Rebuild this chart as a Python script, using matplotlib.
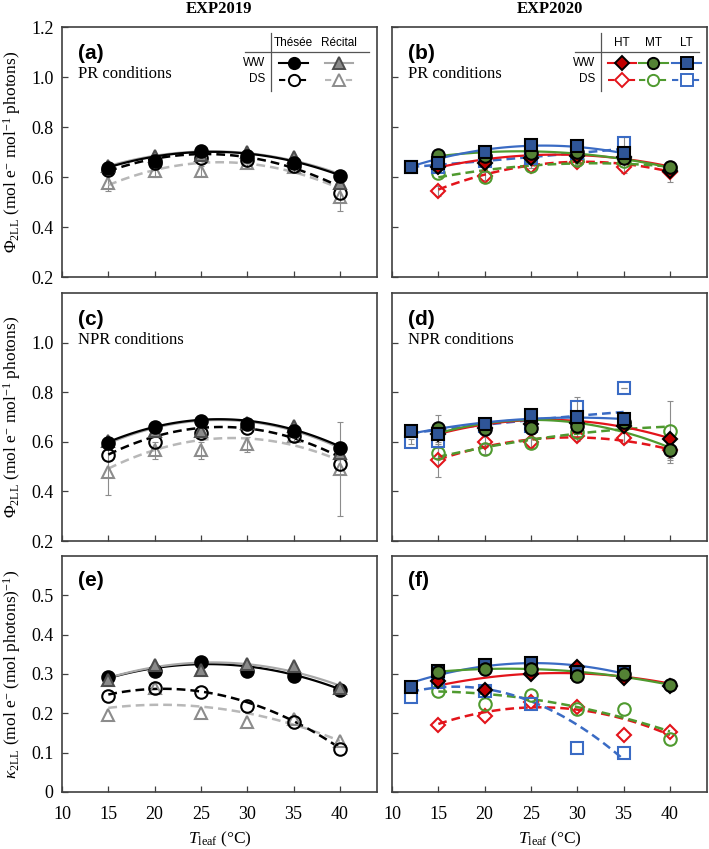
import numpy as np
import matplotlib
matplotlib.use("Agg")
import matplotlib.pyplot as plt

plt.rcParams['font.family'] = 'Liberation Serif'
plt.rcParams['mathtext.fontset'] = 'custom'
plt.rcParams['mathtext.rm'] = 'Liberation Serif'
plt.rcParams['mathtext.it'] = 'Liberation Serif:italic'
plt.rcParams['mathtext.bf'] = 'Liberation Serif:bold'

# temperatures
t19 = [15, 20, 25, 30, 35, 40]
t20 = [15, 20, 25, 30, 35, 40]
t20_lt = [12, 15, 20, 25, 30, 35]

# (a) EXP2019, PR
a_th_ww = [0.635, 0.665, 0.705, 0.685, 0.655, 0.605]
a_th_ww_fit = [0.64, 0.68, 0.698, 0.695, 0.665, 0.605]
a_re_ww = [0.645, 0.685, 0.69, 0.70, 0.68, 0.575]
a_re_ww_fit = [0.645, 0.683, 0.70, 0.697, 0.668, 0.61]
a_th_ds = [0.63, 0.655, 0.675, 0.67, 0.645, 0.535]
a_th_ds_fit = [0.625, 0.67, 0.69, 0.683, 0.635, 0.56]
a_re_ds = [0.575, 0.625, 0.625, 0.655, 0.64, 0.52]
a_re_ds_fit = [0.57, 0.625, 0.653, 0.655, 0.625, 0.55]
a_re_ds_err = [0.03, 0.025, 0.02, 0.02, 0.02, 0.055]

# (c) EXP2019, NPR
c_th_ww = [0.595, 0.66, 0.685, 0.67, 0.645, 0.575]
c_th_ww_fit = [0.60, 0.66, 0.685, 0.685, 0.655, 0.578]
c_re_ww = [0.605, 0.645, 0.645, 0.675, 0.665, 0.555]
c_re_ww_fit = [0.595, 0.655, 0.682, 0.682, 0.65, 0.572]
c_th_ds = [0.545, 0.60, 0.635, 0.655, 0.625, 0.51]
c_th_ds_fit = [0.55, 0.62, 0.652, 0.655, 0.62, 0.535]
c_re_ds = [0.48, 0.565, 0.565, 0.59, 0.625, 0.49]
c_re_ds_fit = [0.49, 0.57, 0.607, 0.612, 0.585, 0.525]
c_re_ds_err = [0.095, 0.035, 0.035, 0.03, 0.02, 0.19]

# (e) EXP2019, kappa
e_th_ww = [0.293, 0.307, 0.330, 0.307, 0.296, 0.260]
e_th_ww_fit = [0.29, 0.315, 0.323, 0.32, 0.30, 0.26]
e_re_ww = [0.285, 0.323, 0.31, 0.325, 0.32, 0.265]
e_re_ww_fit = [0.29, 0.318, 0.328, 0.325, 0.306, 0.27]
e_th_ds = [0.245, 0.265, 0.254, 0.219, 0.178, 0.11]
e_th_ds_fit = [0.245, 0.265, 0.26, 0.225, 0.175, 0.115]
e_re_ds = [0.195, 0.265, 0.20, 0.178, 0.185, 0.13]
e_re_ds_fit = [0.213, 0.223, 0.218, 0.198, 0.172, 0.13]

# (b) EXP2020, PR
b_ht_ww = [0.64, 0.655, 0.675, 0.685, 0.68, 0.625]
b_ht_ww_fit = [0.64, 0.668, 0.685, 0.69, 0.675, 0.64]
b_ht_ds = [0.545, 0.605, 0.645, 0.66, 0.64, 0.62]
b_ht_ds_fit = [0.55, 0.61, 0.645, 0.66, 0.655, 0.62]
b_ht_ds_err = [0.02, 0.015, 0.01, 0.01, 0.025, 0.04]
b_mt_ww = [0.69, 0.685, 0.695, 0.70, 0.675, 0.64]
b_mt_ww_fit = [0.685, 0.697, 0.70, 0.695, 0.675, 0.635]
b_mt_ds = [0.615, 0.60, 0.645, 0.67, 0.665, 0.635]
b_mt_ds_fit = [0.60, 0.625, 0.645, 0.655, 0.655, 0.64]
b_lt_ww = [0.64, 0.655, 0.70, 0.728, 0.725, 0.695]
b_lt_ww_fit = [0.64, 0.675, 0.708, 0.725, 0.72, 0.695]
b_lt_ds = [0.64, 0.64, 0.665, 0.675, 0.695, 0.735]
b_lt_ds_fit = [0.64, 0.648, 0.665, 0.68, 0.695, 0.713]
b_lt_ds_err = [0.0, 0.01, 0.01, 0.01, 0.01, 0.025]

# (d) EXP2020, NPR
d_ht_ww = [0.63, 0.655, 0.67, 0.675, 0.665, 0.61]
d_ht_ww_fit = [0.635, 0.665, 0.683, 0.688, 0.665, 0.61]
d_ht_ds = [0.525, 0.60, 0.60, 0.625, 0.615, 0.565]
d_ht_ds_fit = [0.532, 0.575, 0.605, 0.621, 0.61, 0.565]
d_ht_ds_err = [0.065, 0.02, 0.02, 0.02, 0.02, 0.05]
d_mt_ww = [0.655, 0.65, 0.655, 0.665, 0.68, 0.565]
d_mt_ww_fit = [0.637, 0.67, 0.687, 0.68, 0.64, 0.575]
d_mt_ww_err = [0.055, 0.02, 0.02, 0.02, 0.02, 0.03]
d_mt_ds = [0.555, 0.57, 0.595, 0.64, 0.67, 0.645]
d_mt_ds_fit = [0.541, 0.575, 0.607, 0.635, 0.652, 0.66]
d_mt_ds_err = [0.02, 0.02, 0.02, 0.02, 0.02, 0.12]
d_lt_ww = [0.645, 0.63, 0.67, 0.71, 0.70, 0.69]
d_lt_ww_fit = [0.635, 0.65, 0.675, 0.695, 0.70, 0.69]
d_lt_ds = [0.60, 0.605, 0.665, 0.665, 0.74, 0.815]
d_lt_ds_fit = [0.635, 0.648, 0.668, 0.688, 0.705, 0.72]
d_lt_ds_err = [0.01, 0.02, 0.02, 0.02, 0.04, 0.0]

# (f) EXP2020, kappa
f_ht_ww = [0.281, 0.26, 0.30, 0.318, 0.29, 0.27]
f_ht_ww_fit = [0.271, 0.29, 0.30, 0.302, 0.294, 0.275]
f_ht_ds = [0.17, 0.192, 0.23, 0.216, 0.146, 0.153]
f_ht_ds_fit = [0.175, 0.2, 0.213, 0.212, 0.188, 0.143]
f_mt_ww = [0.304, 0.313, 0.313, 0.296, 0.30, 0.272]
f_mt_ww_fit = [0.305, 0.314, 0.313, 0.305, 0.292, 0.273]
f_mt_ds = [0.258, 0.224, 0.247, 0.21, 0.212, 0.134]
f_mt_ds_fit = [0.255, 0.25, 0.237, 0.216, 0.187, 0.155]
f_lt_ww = [0.268, 0.308, 0.324, 0.329, 0.304, 0.304]
f_lt_ww_fit = [0.275, 0.300, 0.32, 0.327, 0.32, 0.302]
f_lt_ds = [0.241, 0.279, 0.258, 0.224, 0.113, 0.10]
f_lt_ds_fit = [0.25, 0.27, 0.266, 0.229, 0.165, 0.086]

# styles
TH_WW = dict(marker='o', mfc='black', mec='black', color='black', ls='-')
RE_WW = dict(marker='^', mfc='#8a8a8a', mec='#4d4d4d', color='#a8a8a8', ls='-')
TH_DS = dict(marker='o', mfc='none', mec='black', color='black', ls='--')
RE_DS = dict(marker='^', mfc='none', mec='#8c8c8c', color='#b8b8b8', ls='--')
HT_WW = dict(marker='D', mfc='#c00000', mec='black', color='#e3141b', ls='-', ms=7.5)
HT_DS = dict(marker='D', mfc='none', mec='#e3141b', color='#e3141b', ls='--', ms=7.5)
MT_WW = dict(marker='o', mfc='#548235', mec='black', color='#4f9a2f', ls='-')
MT_DS = dict(marker='o', mfc='none', mec='#4f9a2f', color='#4f9a2f', ls='--')
LT_WW = dict(marker='s', mfc='#2f5597', mec='black', color='#3a6bc4', ls='-')
LT_DS = dict(marker='s', mfc='none', mec='#3a6bc4', color='#3a6bc4', ls='--')


def draw(ax, x, y, fit, st, err=None):
    coef = np.polyfit(x, fit, 2)
    xs = np.linspace(min(x), max(x), 100)
    kw = dict(color=st['color'], lw=1.6, zorder=2)
    if st['ls'] == '--':
        kw['dashes'] = (3.5, 2)
        kw['lw'] = 1.8
    ax.plot(xs, np.polyval(coef, xs), **kw)
    if err is not None:
        ax.errorbar(x, y, yerr=err, fmt='none', ecolor='#8c8c8c', elinewidth=0.8,
                    capsize=2.2, capthick=0.8, zorder=1)
    ax.plot(x, y, ls='none', marker=st['marker'], mfc=st['mfc'], mec=st['mec'],
            ms=st.get('ms', 9), mew=1.5, zorder=3)


def legend(ax, heads, hx, ww, ds):
    tr = ax.transAxes
    ax.plot([0.662, 0.662], [0.745, 0.975], color='#555555', lw=0.9, transform=tr, clip_on=False)
    ax.plot([0.58, 0.975], [0.9, 0.9], color='#555555', lw=0.9, transform=tr, clip_on=False)
    for h, x in zip(heads, hx):
        ax.text(x, 0.935, h, transform=tr, ha='center', va='center', fontsize=8.5,
                family='Liberation Sans')
    ax.text(0.645, 0.858, 'WW', transform=tr, ha='right', va='center', fontsize=8.5,
            family='Liberation Sans')
    ax.text(0.645, 0.79, 'DS', transform=tr, ha='right', va='center', fontsize=8.5,
            family='Liberation Sans')
    for x, st, yy in [(x, s, 0.858) for x, s in zip(hx, ww)] + [(x, s, 0.79) for x, s in zip(hx, ds)]:
        kw = dict(color=st['color'], lw=1.5, transform=tr, clip_on=False)
        if st['ls'] == '--':
            kw['dashes'] = (3, 2)
        ax.plot([x - 0.045, x + 0.045], [yy, yy], **kw)
        ax.plot([x], [yy], marker=st['marker'], mfc=st['mfc'] if st['mfc'] != 'none' else 'white',
                mec=st['mec'], ms=st.get('ms', 9) * 0.9, mew=1.4, transform=tr, clip_on=False)


W, H = 709, 849
fig = plt.figure(figsize=(W / 100, H / 100), dpi=100)

rows = [(27, 277), (293, 541), (556, 792)]
cols = [(62, 377), (392, 707)]
axs = {}
for r, (top, bot) in enumerate(rows):
    for c, (l, rgt) in enumerate(cols):
        axs[(r, c)] = fig.add_axes([l / W, (H - bot) / H, (rgt - l) / W, (bot - top) / H])

# left column
draw(axs[(0, 0)], t19, a_re_ds, a_re_ds_fit, RE_DS, a_re_ds_err)
draw(axs[(0, 0)], t19, a_th_ds, a_th_ds_fit, TH_DS)
draw(axs[(0, 0)], t19, a_re_ww, a_re_ww_fit, RE_WW)
draw(axs[(0, 0)], t19, a_th_ww, a_th_ww_fit, TH_WW)

draw(axs[(1, 0)], t19, c_re_ds, c_re_ds_fit, RE_DS, c_re_ds_err)
draw(axs[(1, 0)], t19, c_th_ds, c_th_ds_fit, TH_DS)
draw(axs[(1, 0)], t19, c_re_ww, c_re_ww_fit, RE_WW)
draw(axs[(1, 0)], t19, c_th_ww, c_th_ww_fit, TH_WW)

draw(axs[(2, 0)], t19, e_re_ds, e_re_ds_fit, RE_DS)
draw(axs[(2, 0)], t19, e_th_ds, e_th_ds_fit, TH_DS)
draw(axs[(2, 0)], t19, e_th_ww, e_th_ww_fit, TH_WW)
draw(axs[(2, 0)], t19, e_re_ww, e_re_ww_fit, RE_WW)

# right column
draw(axs[(0, 1)], t20, b_ht_ds, b_ht_ds_fit, HT_DS, b_ht_ds_err)
draw(axs[(0, 1)], t20, b_mt_ds, b_mt_ds_fit, MT_DS)
draw(axs[(0, 1)], t20_lt, b_lt_ds, b_lt_ds_fit, LT_DS, b_lt_ds_err)
draw(axs[(0, 1)], t20, b_ht_ww, b_ht_ww_fit, HT_WW)
draw(axs[(0, 1)], t20, b_mt_ww, b_mt_ww_fit, MT_WW)
draw(axs[(0, 1)], t20_lt, b_lt_ww, b_lt_ww_fit, LT_WW)

draw(axs[(1, 1)], t20, d_ht_ds, d_ht_ds_fit, HT_DS, d_ht_ds_err)
draw(axs[(1, 1)], t20, d_mt_ds, d_mt_ds_fit, MT_DS, d_mt_ds_err)
draw(axs[(1, 1)], t20_lt, d_lt_ds, d_lt_ds_fit, LT_DS, d_lt_ds_err)
draw(axs[(1, 1)], t20, d_ht_ww, d_ht_ww_fit, HT_WW)
draw(axs[(1, 1)], t20, d_mt_ww, d_mt_ww_fit, MT_WW, d_mt_ww_err)
draw(axs[(1, 1)], t20_lt, d_lt_ww, d_lt_ww_fit, LT_WW)

draw(axs[(2, 1)], t20, f_ht_ds, f_ht_ds_fit, HT_DS)
draw(axs[(2, 1)], t20, f_mt_ds, f_mt_ds_fit, MT_DS)
draw(axs[(2, 1)], t20_lt, f_lt_ds, f_lt_ds_fit, LT_DS)
draw(axs[(2, 1)], t20, f_ht_ww, f_ht_ww_fit, HT_WW)
draw(axs[(2, 1)], t20_lt, f_lt_ww, f_lt_ww_fit, LT_WW)
draw(axs[(2, 1)], t20, f_mt_ww, f_mt_ww_fit, MT_WW)

phi_lab = r'$\mathit{Φ}_{\mathrm{2LL}}$ (mol e$^{-}$ mol$^{-1}$ photons)'
kap_lab = r'$\mathit{κ}_{\mathrm{2LL}}$ (mol e$^{-}$ (mol photons)$^{-1}$)'
letters = {(0, 0): '(a)', (0, 1): '(b)', (1, 0): '(c)', (1, 1): '(d)', (2, 0): '(e)', (2, 1): '(f)'}

for (r, c), ax in axs.items():
    ax.set_xlim(10, 44)
    ax.set_xticks([10, 15, 20, 25, 30, 35, 40])
    if r < 2:
        ax.set_ylim(0.2, 1.2)
        yt = [0.2, 0.4, 0.6, 0.8, 1.0, 1.2] if r == 0 else [0.2, 0.4, 0.6, 0.8, 1.0]
        ax.set_yticks(yt)
        ax.set_yticklabels(['%.1f' % v for v in yt])
    else:
        ax.set_ylim(0, 0.6)
        yt = [0, 0.1, 0.2, 0.3, 0.4, 0.5]
        ax.set_yticks(yt)
        ax.set_yticklabels(['0'] + ['%.1f' % v for v in yt[1:]])
    ax.tick_params(direction='in', length=4, width=0.9, labelsize=13, color='#404040', pad=6)
    ax.tick_params(axis='x', pad=10)
    if r < 2:
        ax.tick_params(labelbottom=False)
    else:
        ax.set_xlabel(r'$\mathit{T}_{\mathrm{leaf}}$ (°C)', fontsize=12.5, labelpad=5)
    if c == 1:
        ax.tick_params(labelleft=False)
    else:
        ax.set_ylabel(phi_lab if r < 2 else kap_lab, fontsize=12.5, labelpad=6)
    for s in ax.spines.values():
        s.set_color('#404040')
        s.set_linewidth(1.2)
    ax.text(0.05, 0.895, letters[(r, c)], transform=ax.transAxes, fontsize=15,
            fontweight='bold', family='Liberation Sans', va='center')
    if r == 0:
        ax.text(0.05, 0.81, 'PR conditions', transform=ax.transAxes, fontsize=12, va='center')
    elif r == 1:
        ax.text(0.05, 0.81, 'NPR conditions', transform=ax.transAxes, fontsize=12, va='center')

legend(axs[(0, 0)], ['Thésée', 'Récital'], [0.735, 0.88], [TH_WW, RE_WW], [TH_DS, RE_DS])
legend(axs[(0, 1)], ['HT', 'MT', 'LT'], [0.73, 0.83, 0.935], [HT_WW, MT_WW, LT_WW], [HT_DS, MT_DS, LT_DS])

fig.text(219.5 / W, 1 - 9 / H, 'EXP2019', ha='center', va='center', fontsize=12, fontweight='bold')
fig.text(549.5 / W, 1 - 9 / H, 'EXP2020', ha='center', va='center', fontsize=12, fontweight='bold')

fig.savefig('out.png', dpi=100)
